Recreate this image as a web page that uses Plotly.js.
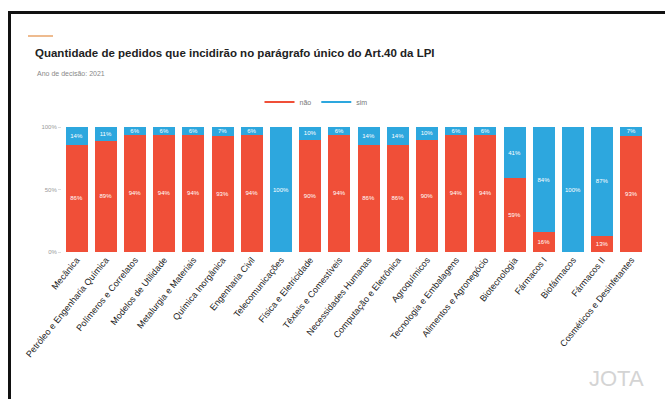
<!DOCTYPE html>
<html>
<head>
<meta charset="utf-8">
<script src="https://cdn.plot.ly/plotly-3.0.1.min.js"></script>
<style>
  html, body { margin:0; padding:0; background:#fff; }
  #wrap { position:relative; width:665px; height:399px; overflow:hidden; }
  #chart { width:665px; height:399px; }
  #frame { position:absolute; left:8px; top:11px; right:-5px; bottom:-5px; border-left:3px solid #111; border-top:3px solid #111; pointer-events:none; }
</style>
</head>
<body>
<div id="wrap"><div id="chart"></div><div id="frame"></div></div>
<script>
const categories = [
  "Mecânica", "Petróleo e Engenharia Química", "Polímeros e Correlatos",
  "Modelos de Utilidade", "Metalurgia e Materiais", "Química Inorgânica",
  "Engenharia Civil", "Telecomunicações", "Física e Eletricidade",
  "Têxteis e Comestíveis", "Necessidades Humanas", "Computação e Eletrônica",
  "Agroquímicos", "Tecnologia e Embalagens", "Alimentos e Agronegócio",
  "Biotecnologia", "Fármacos I", "Biofármacos", "Fármacos II",
  "Cosméticos e Desinfetantes"
];
const nao = [86, 89, 94, 94, 94, 93, 94, 0, 90, 94, 86, 86, 90, 94, 94, 59, 16, 0, 13, 93];
const sim = [14, 11, 6, 6, 6, 7, 6, 100, 10, 6, 14, 14, 10, 6, 6, 41, 84, 100, 87, 7];
const seriesNames = ["não", "sim"];
const yTicks = [0, 50, 100];

const RED = "#F04F38";
const BLUE = "#2DA7DE";

// pixel geometry
const W = 665, H = 399;
const ML = 62, MR = 19, MT = 127, MB = 147;
const PW = W - ML - MR, PH = H - MT - MB;
const px = x => (x - ML) / PW;
const py = y => (H - MB - y) / PH;

const lbl = arr => arr.map(v => v > 0 ? v + "%" : "");

const traces = [
  {
    type: "bar", x: categories, y: nao, name: seriesNames[0], showlegend: false,
    marker: { color: RED }, text: lbl(nao), textposition: "inside", textangle: 0,
    insidetextanchor: "middle", textfont: { color: "#fff", size: 6, family: "Liberation Sans, Arial, sans-serif" },
    hoverinfo: "skip"
  },
  {
    type: "bar", x: categories, y: sim, name: seriesNames[1], showlegend: false,
    marker: { color: BLUE }, text: lbl(sim), textposition: "inside", textangle: 0,
    insidetextanchor: "middle", textfont: { color: "#fff", size: 6, family: "Liberation Sans, Arial, sans-serif" },
    hoverinfo: "skip"
  },
  { type: "scatter", mode: "lines", x: [null], y: [null], name: seriesNames[0], line: { color: RED, width: 2 }, showlegend: true },
  { type: "scatter", mode: "lines", x: [null], y: [null], name: seriesNames[1], line: { color: BLUE, width: 2 }, showlegend: true }
];

const layout = {
  width: W, height: H,
  margin: { l: ML, r: MR, t: MT, b: MB, pad: 0 },
  paper_bgcolor: "#fff", plot_bgcolor: "#fff",
  barmode: "stack", bargap: 0.25,
  font: { family: "Liberation Sans, Arial, sans-serif", color: "#444" },
  uniformtext: { mode: "show", minsize: 6 },
  xaxis: {
    type: "category", tickangle: -51, tickfont: { size: 9, color: "#222" },
    showgrid: false, zeroline: false, showline: false, ticks: "", fixedrange: true
  },
  yaxis: {
    range: [0, 100], tickvals: yTicks, ticktext: yTicks.map(v => v + "%"),
    tickfont: { size: 6, color: "#999" }, showgrid: false, zeroline: false,
    ticks: "outside", ticklen: 3, tickcolor: "#ddd", showline: false, fixedrange: true
  },
  legend: {
    orientation: "h", traceorder: "normal", x: px(316), xanchor: "center", y: py(102), yanchor: "middle",
    font: { size: 7, color: "#777" }, itemwidth: 30, bgcolor: "rgba(0,0,0,0)"
  },
  title: {
    text: "<b>Quantidade de pedidos que incidirão no parágrafo único do Art.40 da LPI</b>",
    xref: "container", yref: "container", x: 35 / W, xanchor: "left",
    y: 1 - 53 / H, yanchor: "middle",
    font: { size: 11.5, color: "#222", family: "Liberation Sans, Arial, sans-serif" }
  },
  annotations: [
    { text: "Ano de decisão: 2021", xref: "paper", yref: "paper", x: px(35), y: py(73),
      xanchor: "left", yanchor: "middle", showarrow: false, font: { size: 7, color: "#888" } },
    { text: "JOTA", xref: "paper", yref: "paper", x: px(646), y: py(378),
      xanchor: "right", yanchor: "middle", showarrow: false,
      font: { size: 22, color: "#d4d4d4", family: "Liberation Sans, Arial, sans-serif" } }
  ],
  shapes: [
    { type: "line", xref: "paper", yref: "paper", x0: px(28), x1: px(53), y0: py(36), y1: py(36),
      line: { color: "#E9A46A", width: 1.5 } }
  ]
};

Plotly.newPlot("chart", traces, layout, { displayModeBar: false, staticPlot: true });
</script>
</body>
</html>
